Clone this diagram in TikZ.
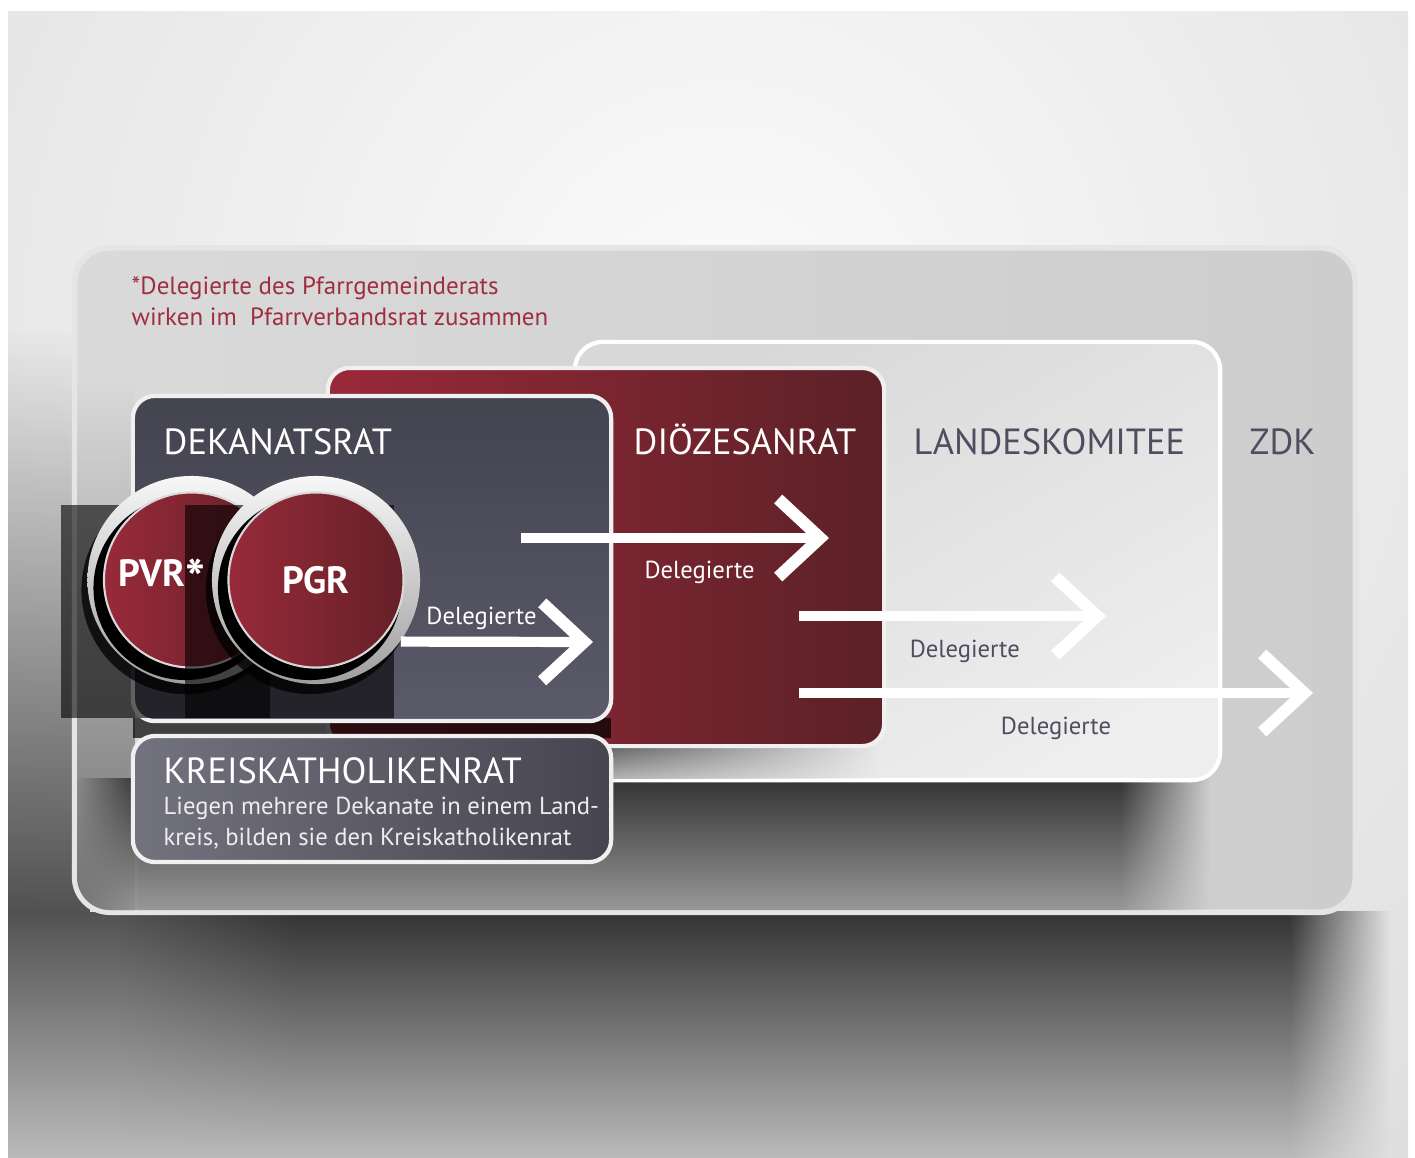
\documentclass[tikz,border=0pt]{standalone}
\usepackage{fontspec}
\setmainfont{PT Sans}
\usepackage{tikz}
\usetikzlibrary{positioning,calc,arrows.meta,fadings}
\usepackage{xcolor}

\definecolor{bglight}{HTML}{FBFBFB}
\definecolor{bgdark}{HTML}{D6D6D6}
\definecolor{panell}{HTML}{DADADA}
\definecolor{paneld}{HTML}{CDCDCD}
\definecolor{landesl}{HTML}{EEEEEE}
\definecolor{landesd}{HTML}{D8D8D8}
\definecolor{dioezl}{HTML}{9A2939}
\definecolor{dioezd}{HTML}{5B2127}
\definecolor{dekl}{HTML}{5A5A6A}
\definecolor{dekd}{HTML}{444350}
\definecolor{kreisl}{HTML}{73737F}
\definecolor{kreisd}{HTML}{45444F}
\definecolor{pvrred}{HTML}{982A3A}
\definecolor{pvrdark}{HTML}{652028}
\definecolor{notered}{HTML}{9E2E40}
\definecolor{grau}{HTML}{4F4E60}

\begin{document}
\begin{tikzpicture}[x=0.01cm,y=-0.01cm,
	rat/.style={draw=white!94!black,line width=1.2pt,rounded corners=0.22cm,inner sep=0pt,outer sep=0pt},
	titel/.style={anchor=base west,inner sep=0pt,font=\fontsize{10.35}{12}\selectfont},
	notiz/.style={anchor=north west,inner sep=0pt,align=left,font=\fontsize{7.1}{8.8}\selectfont},
	lbl/.style={inner sep=0pt,font=\fontsize{7}{8}\selectfont},
	deleg/.style={white,line width=2.9pt,-{Straight Barb[sharp,length=4.2mm,width=7.8mm,line width=3.4pt]}},
	ring/.style={circle,inner sep=0pt,minimum size=2.08cm,top color=white!97!black,bottom color=white!62!black},
	scheibe/.style={circle,draw=white!85!black,line width=0.6pt,inner sep=0pt,minimum size=1.75cm,left color=pvrred,right color=pvrdark},
	kreistext/.style={inner sep=0pt,text=white,font=\bfseries\fontsize{10.8}{12}\selectfont}]

	% hintergrund
	\fill[white] (0,0) rectangle (1415,1157);
	\begin{scope}
		\clip (8,11) rectangle (1408,1157);
		\shade[inner color=bglight,outer color=bgdark] (720,330) circle (14cm);
		\fill[black!68,path fading=north] (8,330) rectangle (90,912);
		\shade[top color=black!68,bottom color=black!27] (8,912) rectangle (300,1157);
		\shade[top color=black!80,bottom color=black!27,path fading=west] (120,912) rectangle (300,1157);
		\shade[top color=black!80,bottom color=black!27] (300,912) rectangle (1290,1157);
		\shade[top color=black!80,bottom color=black!27,path fading=east] (1290,912) rectangle (1390,1157);
	\end{scope}

	% grosse tafel
	\node[draw=white!90!black,line width=1.6pt,rounded corners=0.35cm,minimum width=12.8cm,minimum height=6.64cm,left color=panell,right color=paneld] (panel) at (715,580) {};
	\begin{scope}
		\clip[rounded corners=0.33cm] (77,250) rectangle (1353,910);
		\fill[black!55,path fading=north] (75,380) rectangle (135,912);
		\shade[top color=black!80,bottom color=black!40,path fading=west] (75,778) rectangle (140,912);
		\shade[top color=black!80,bottom color=black!40] (139,778) rectangle (1120,912);
		\shade[top color=black!80,bottom color=black!40,path fading=east] (1120,778) rectangle (1210,912);
	\end{scope}

	\node[notiz,text=notered] (hinweis) at (131,276) {*Delegierte des Pfarrgemeinderats\\wirken im\ \ Pfarrverbandsrat zusammen};

	% raete
	\node[rat,draw=white,rounded corners=0.28cm,minimum width=6.45cm,minimum height=4.38cm,top color=landesd,bottom color=landesl,shading angle=30] (landes) at (897.5,561) {};
	\shade[top color=black!60,bottom color=black!30,path fading=east] (611,747) rectangle (880,778);
	\node[rat,minimum width=5.56cm,minimum height=3.78cm,left color=dioezl,right color=dioezd] (dioez) at (606,557) {};
	\fill[black,opacity=0.7] (133,718) rectangle (611,738);
	\node[rat,minimum width=4.78cm,minimum height=3.25cm,top color=dekd,bottom color=dekl] (dekanat) at (372,558.5) {};
	\node[rat,minimum width=4.78cm,minimum height=1.26cm,left color=kreisl,right color=kreisd] (kreis) at (372,799) {};

	\node[titel,text=white] (tdek) at (163,454) {DEKANATSRAT};
	\node[titel,text=white] (tdioez) at (633,454) {DIÖZESANRAT};
	\node[titel,text=grau] (tlandes) at (913,454) {LANDESKOMITEE};
	\node[titel,text=grau] (tzdk) at (1249,454) {ZDK};
	\node[titel,text=white] (tkreis) at (163,783) {KREISKATHOLIKENRAT};
	\node[notiz,text=white!93!black,font=\fontsize{7}{8.8}\selectfont] (kreisinfo) at (163,796) {Liegen mehrere Dekanate in einem Land-\\kreis, bilden sie den Kreiskatholikenrat};

	% PVR und PGR
	\fill[black,opacity=0.6] (61,505) rectangle (270,718);
	\fill[black,opacity=0.75] (185.5,590) circle (1.04cm);
	\node[ring] (pvrring) at (191.5,580) {};
	\fill[black] ($(pvrring.center)+(-6,8)$) circle (0.92cm);
	\node[scheibe] (pvr) at (pvrring.center) {};

	\fill[black,opacity=0.6] (185,505) rectangle (394,718);
	\node[kreistext] (tpvr) at (162,578) {PVR\raisebox{-3pt}{\fontsize{15}{15}\selectfont*}};
	\fill[black,opacity=0.75] (310,590) circle (1.04cm);
	\node[ring] (pgrring) at (316,580) {};
	\fill[black] ($(pgrring.center)+(-6,8)$) circle (0.92cm);
	\node[scheibe] (pgr) at (pgrring.center) {};
	\node[kreistext] (tpgr) at (pgr.center) {PGR};

	% delegierte
	\coordinate (d1) at (593,642);
	\coordinate (s2) at (521,538);
	\coordinate (d2) at (829,538);
	\coordinate (s3) at (799,616);
	\coordinate (d3) at (1106,616);
	\coordinate (s4) at (799,693);
	\coordinate (d4) at (1313,693);

	\path (pgrring.-36.6) edge[deleg] node[lbl,text=white,above=0.07cm,pos=0.42] {Delegierte} (d1);
	\path (s2) edge[deleg] node[lbl,text=white,below=0.18cm,pos=0.58] {Delegierte} (d2);
	\path (s3) edge[deleg] node[lbl,text=grau,below=0.19cm,pos=0.54] {Delegierte} (d3);
	\path (s4) edge[deleg] node[lbl,text=grau,below=0.19cm,pos=0.5] {Delegierte} (d4);
\end{tikzpicture}
\end{document}
